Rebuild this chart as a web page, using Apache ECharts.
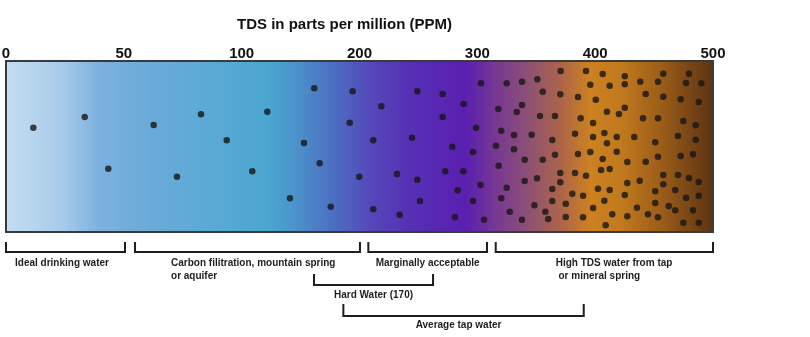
<!DOCTYPE html>
<html><head><meta charset="utf-8">
<script src="https://cdn.jsdelivr.net/npm/echarts@6/dist/echarts.min.js"></script>
<style>html,body{margin:0;padding:0;background:#fff}#c{width:810px;height:337px}</style>
</head><body><div id="c"></div>
<script>
// Axis tick labels (TDS in PPM), placed at equal steps along the bar
const tickLabels = ['0','50','100','200','300','400','500'];

// Dot positions (x along the bar scale 0-600, y = height within the bar 0-171)
const dotX = [23.2,66.8,86.8,125.3,145.1,165.5,187.3,209.0,221.8,241.0,252.9,261.6,266.2,275.6,291.7,294.2,299.8,
349.1,370.6,318.5,388.4,370.6,398.9,311.7,344.6,378.8,396.3,331.8,349.1,372.8,388.1,402.7,383.3,351.3,396.3,311.7,334.1,381.0,403.1,
424.9,437.9,450.9,470.7,492.2,495.9,455.5,470.4,485.4,500.5,437.9,417.8,433.4,453.2,465.9,487.7,498.2,420.3,431.1,446.1,463.6,482.9,498.2,415.8,431.1,440.2,455.5,465.9,485.4,495.9,418.1,470.4,482.9,492.2,440.2,450.6,424.9,420.3,463.6,470.4,480.6,489.7,502.4,463.6,475.0,448.4,498.2,427.5,457.7,405.7,437.9,460.2,475.0,489.7,
506.4,525.1,557.8,579.6,512.3,525.1,538.3,553.3,577.1,590.1,542.9,557.8,572.6,587.9,525.1,510.0,520.2,540.6,553.3,574.8,585.3,507.8,518.3,533.2,510.0,551.0,570.3,585.3,518.3,506.4,527.3,542.9,553.3,572.6,583.0,505.0,512.3,557.8,570.3,579.6,587.9,527.3,537.8,557.8,512.3,525.1,551.0,568.0,577.1,587.9,507.8,551.0,562.4,535.5,568.0,583.0,514.5,527.3,544.8,553.3,508.9,574.8,587.9];
const dotY = [104.3,115,63.3,107,55.3,117.7,91.7,60.7,120.3,33.7,89,143.7,68.7,25.3,109.3,140.7,55.3,
140.7,138,125.7,128,115,104.3,91.7,94.3,85.3,80,58,52.3,60.7,60.7,47,41.7,31,31,22.7,17.3,14.7,148.7,
148.7,150.3,152.7,161,161,147.3,140.3,137.7,135,132.3,127,123,120,116,116,113.7,109,101.3,97,97.3,92,98.3,95,86.3,82.7,72.3,72.3,77.3,78,80,66.3,59,59,56.3,51,53.7,44.3,33.7,43,49.7,38.3,36.3,43.3,31,28.3,26.7,24,20.3,20.3,12.3,12.3,13,15,14.7,
158,155.7,158.3,158.3,146.3,147.7,150.3,150.3,149,148.7,138,135.3,132.7,130,124.3,120.3,118,113.7,113.7,111,106.7,99,95,95,88.7,89.7,96,92.3,80.3,73,70,70.3,75.3,76,77.7,62,63,57,57,54,50,49,51.3,47.7,42,37,40.7,42,34.3,36.3,31.3,29,26,24.3,21.7,21.7,17.7,15.7,17.7,14.7,6.7,9.3,9.3];

// Range brackets under the bar
const rangeNames = ['Ideal drinking water','Carbon filitration, mountain spring\nor aquifer','Marginally acceptable','High TDS water from tap\n or mineral spring','Hard Water (170)','Average tap water'];
const rangeStart = [0, 109.5, 307.5, 415.6, 261.4, 286.3];
const rangeEnd   = [101, 300.4, 408.2, 600, 362.4, 490.3];
const rangeRow   = [0, 0, 0, 0, 1, 2];

// layout / style (not data)
const rowTop = [10, 42, 72], rowLine = [20, 53, 84], rowText = [31.5, 63.5, 93];
const labelLayout = [{align:'left',dx:9},{align:'left',dx:36},{align:'center',dx:0},{align:'left',dx:60},{align:'center',dx:0},{align:'center',dx:-5}];
const FONT = '"Liberation Sans", Arial, Helvetica, sans-serif';

const chart = echarts.init(document.getElementById('c'));
const grad = new echarts.graphic.LinearGradient(0,0,1,0,[
  {offset:0, color:'#c4def2'},
  {offset:0.055, color:'#b2d1ec'},
  {offset:0.085, color:'#a4c9e9'},
  {offset:0.133, color:'#7cb1df'},
  {offset:0.204, color:'#6aaad9'},
  {offset:0.274, color:'#5eaad6'},
  {offset:0.373, color:'#4aa6d0'},
  {offset:0.416, color:'#4b8fc9'},
  {offset:0.472, color:'#4d68c0'},
  {offset:0.515, color:'#5448b9'},
  {offset:0.571, color:'#5530b5'},
  {offset:0.649, color:'#5a1fb0'},
  {offset:0.699, color:'#7a3c8e'},
  {offset:0.741, color:'#8f5272'},
  {offset:0.784, color:'#ad6448'},
  {offset:0.826, color:'#cd8120'},
  {offset:0.868, color:'#c27a1e'},
  {offset:0.925, color:'#9c5d18'},
  {offset:1, color:'#5c3212'}
]);

chart.setOption({
  animation:false,
  title:{text:'TDS in parts per million (PPM)', left:237, top:17, padding:0,
    textStyle:{fontSize:15, fontWeight:'bold', color:'#111', fontFamily:FONT}},
  grid:{left:6, right:97, top:61, bottom:105, outerBoundsMode:'none', containLabel:false},
  xAxis:{type:'value', position:'top', min:0, max:600, interval:100,
    axisLine:{show:false}, axisTick:{show:false}, splitLine:{show:false},
    axisLabel:{formatter:function(v){return tickLabels[Math.round(v/100)];}, fontSize:15, fontWeight:'bold',
      color:'#111', fontFamily:FONT, margin:0, showMinLabel:true, showMaxLabel:true, hideOverlap:false}},
  yAxis:{type:'value', min:0, max:171, show:false},
  series:[
    {type:'scatter', data:[], z:1, silent:true,
      markArea:{silent:true, itemStyle:{color:grad, borderColor:'#3a3a3a', borderWidth:2},
        data:[[{xAxis:'min', yAxis:'min'},{xAxis:'max', yAxis:'max'}]]}},
    {type:'scatter', z:3, symbolSize:6.5, itemStyle:{color:'#161616'}, silent:true,
      data: dotX.map((x,i)=>[x, dotY[i]])},
    {type:'custom', z:4, clip:false, silent:true,
      data: rangeStart.map((s,i)=>[s, rangeEnd[i], rangeRow[i]]),
      renderItem:function(params, api){
        const i = params.dataIndex;
        const x1 = api.coord([api.value(0), 0])[0];
        const x2 = api.coord([api.value(1), 0])[0];
        const base = api.coord([0, 0])[1];
        const row = api.value(2);
        const top = base + rowTop[row], line = base + rowLine[row], ty = base + rowText[row] - 6.5;
        const lay = labelLayout[i];
        let tx, align;
        if (lay.align === 'left') { tx = x1 + lay.dx; align = 'left'; }
        else { tx = (x1 + x2) / 2 + lay.dx; align = 'center'; }
        return {type:'group', children:[
          {type:'polyline', shape:{points:[[x1,top],[x1,line],[x2,line],[x2,top]]},
            style:{stroke:'#1e1e1e', lineWidth:2, fill:null}},
          {type:'text', x:tx, y:ty, style:{text:rangeNames[i], align:align, verticalAlign:'top',
            font:'bold 10px ' + FONT, fill:'#1e1e1e', lineHeight:13}}
        ]};
      }}
  ]
});
</script></body></html>
